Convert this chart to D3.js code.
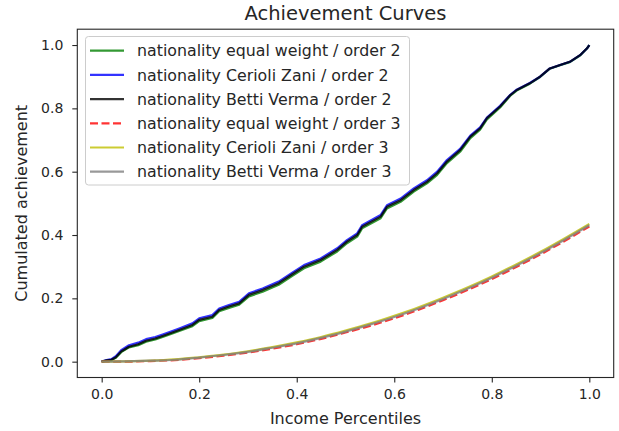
<!DOCTYPE html>
<meta charset="utf-8">
<script src="https://d3js.org/d3.v7.min.js"></script>
<style>
  body { margin: 0; background: #fff; }
  text { font-family: "DejaVu Sans", sans-serif; fill: #262626; }
</style>
<div id="chart"></div>
<script>

// order 2 curves (jagged)
var xOrder2 = [0.000, 0.010, 0.020, 0.029, 0.040, 0.056, 0.075, 0.091, 0.110, 0.125,
               0.145, 0.159, 0.186, 0.200, 0.227, 0.241, 0.261, 0.282, 0.302, 0.330,
               0.363, 0.391, 0.415, 0.449, 0.483, 0.503, 0.524, 0.534, 0.572, 0.585,
               0.613, 0.640, 0.667, 0.688, 0.708, 0.735, 0.756, 0.776, 0.790, 0.817,
               0.838, 0.851, 0.878, 0.899, 0.919, 0.940, 0.960, 0.981, 0.995, 1.000]
var bettiVerma2 = [0.000, 0.004, 0.006, 0.014, 0.032, 0.047, 0.055, 0.066, 0.073, 0.081,
                   0.092, 0.100, 0.116, 0.132, 0.142, 0.163, 0.174, 0.184, 0.211, 0.226,
                   0.248, 0.276, 0.300, 0.321, 0.353, 0.379, 0.400, 0.426, 0.458, 0.489,
                   0.510, 0.542, 0.568, 0.595, 0.632, 0.668, 0.711, 0.737, 0.769, 0.806,
                   0.842, 0.858, 0.879, 0.900, 0.926, 0.937, 0.947, 0.968, 0.989, 1.000]
var cerioliZani2 = [0.000, 0.005, 0.008, 0.017, 0.036, 0.052, 0.060, 0.071, 0.078, 0.086,
                    0.097, 0.105, 0.121, 0.137, 0.147, 0.168, 0.179, 0.189, 0.216, 0.231,
                    0.253, 0.281, 0.305, 0.326, 0.358, 0.384, 0.405, 0.431, 0.463, 0.494,
                    0.515, 0.547, 0.573, 0.600, 0.637, 0.672, 0.714, 0.740, 0.771, 0.808,
                    0.843, 0.859, 0.880, 0.900, 0.926, 0.937, 0.947, 0.968, 0.989, 1.000]
var equalWeight2 = [0.000, 0.003, 0.005, 0.012, 0.030, 0.045, 0.052, 0.063, 0.070, 0.078,
                    0.089, 0.097, 0.112, 0.128, 0.138, 0.159, 0.170, 0.180, 0.206, 0.221,
                    0.243, 0.271, 0.295, 0.316, 0.348, 0.374, 0.395, 0.421, 0.453, 0.484,
                    0.505, 0.537, 0.563, 0.590, 0.627, 0.663, 0.706, 0.733, 0.765, 0.803,
                    0.840, 0.856, 0.878, 0.899, 0.925, 0.936, 0.946, 0.967, 0.989, 1.000]

// order 3 curves (smooth)
var xOrder3 = [0.00, 0.05, 0.10, 0.15, 0.20, 0.25, 0.30, 0.35, 0.40, 0.45, 0.50,
               0.55, 0.60, 0.65, 0.70, 0.75, 0.80, 0.85, 0.90, 0.95, 1.00]
var cerioliZani3 = [0.000, 0.001, 0.003, 0.007, 0.014, 0.022, 0.033, 0.046, 0.061, 0.078, 0.098,
                    0.120, 0.145, 0.172, 0.202, 0.234, 0.269, 0.307, 0.347, 0.390, 0.435]
var bettiVerma3 = [0.000, 0.001, 0.003, 0.006, 0.013, 0.021, 0.031, 0.044, 0.058, 0.075, 0.095,
                   0.117, 0.141, 0.168, 0.198, 0.230, 0.265, 0.303, 0.343, 0.386, 0.431]
var equalWeight3 = [0.000, 0.000, 0.002, 0.005, 0.011, 0.019, 0.029, 0.041, 0.055, 0.072, 0.092,
                    0.113, 0.137, 0.164, 0.194, 0.226, 0.261, 0.299, 0.339, 0.382, 0.427]

var xTicks = [0.0, 0.2, 0.4, 0.6, 0.8, 1.0]
var yTicks = [0.0, 0.2, 0.4, 0.6, 0.8, 1.0]

var series = [
  { name: "nationality equal weight / order 2", xs: xOrder2, ys: equalWeight2, color: "#008000", dash: null },
  { name: "nationality Cerioli Zani / order 2", xs: xOrder2, ys: cerioliZani2, color: "#0000ff", dash: null },
  { name: "nationality Betti Verma / order 2", xs: xOrder2, ys: bettiVerma2, color: "#000000", dash: null },
  { name: "nationality equal weight / order 3", xs: xOrder3, ys: equalWeight3, color: "#ff0000", dash: "8,3.5" },
  { name: "nationality Cerioli Zani / order 3", xs: xOrder3, ys: cerioliZani3, color: "#bfbf00", dash: null },
  { name: "nationality Betti Verma / order 3", xs: xOrder3, ys: bettiVerma3, color: "#808080", dash: null }
]

var width = 619, height = 431
var plotLeft = 77.3, plotRight = 613.7, plotTop = 29.2, plotBottom = 377.5

var svg = d3.select("#chart")
  .append("svg")
    .attr("width", width)
    .attr("height", height)

var x = d3.scaleLinear().domain([-0.05, 1.05]).range([plotLeft, plotRight])
var y = d3.scaleLinear().domain([-0.05, 1.05]).range([plotBottom, plotTop])

// axes
var xAxis = svg.append("g")
  .attr("transform", "translate(0," + plotBottom + ")")
  .call(d3.axisBottom(x).tickValues(xTicks).tickFormat(d3.format(".1f")).tickSize(5).tickPadding(7))
var yAxis = svg.append("g")
  .attr("transform", "translate(" + plotLeft + ",0)")
  .call(d3.axisLeft(y).tickValues(yTicks).tickFormat(d3.format(".1f")).tickSize(5).tickPadding(9))

;[xAxis, yAxis].forEach(function(a) {
  a.select(".domain").remove()
  a.selectAll(".tick line").attr("stroke", "#262626").attr("stroke-width", 1.1)
  a.selectAll(".tick text").style("font-size", "14px").style("fill", "#262626")
})

// lines
var line = d3.line()
  .x(function(d) { return x(d[0]) })
  .y(function(d) { return y(d[1]) })

var plot = svg.append("g")
series.forEach(function(s) {
  var pts = s.xs.map(function(v, i) { return [v, s.ys[i]] })
  plot.append("path")
    .datum(pts)
    .attr("d", line.curve(s.xs === xOrder3 ? d3.curveMonotoneX : d3.curveLinear))
    .attr("fill", "none")
    .attr("stroke", s.color)
    .attr("stroke-opacity", 0.8)
    .attr("stroke-width", 2.2)
    .attr("stroke-linejoin", "round")
    .attr("stroke-dasharray", s.dash)
})

// frame
svg.append("rect")
  .attr("x", plotLeft).attr("y", plotTop)
  .attr("width", plotRight - plotLeft).attr("height", plotBottom - plotTop)
  .attr("fill", "none")
  .attr("stroke", "#262626")
  .attr("stroke-width", 1.1)

// legend
var legend = svg.append("g")
legend.append("rect")
  .attr("x", 85.5).attr("y", 36.5)
  .attr("width", 324).attr("height", 148.5)
  .attr("rx", 3)
  .attr("fill", "#fff").attr("fill-opacity", 0.8)
  .attr("stroke", "#cccccc")
  .attr("stroke-width", 1)

series.forEach(function(s, i) {
  var ly = 50.7 + i * 24.2
  legend.append("line")
    .attr("x1", 90).attr("x2", 124)
    .attr("y1", ly).attr("y2", ly)
    .attr("stroke", s.color)
    .attr("stroke-opacity", 0.8)
    .attr("stroke-width", 2.2)
    .attr("stroke-dasharray", s.dash)
  legend.append("text")
    .attr("x", 137).attr("y", ly + 5.6)
    .style("font-size", "15.8px")
    .text(s.name)
})

// title and labels
svg.append("text")
  .attr("x", (plotLeft + plotRight) / 2).attr("y", 20)
  .attr("text-anchor", "middle")
  .style("font-size", "19.5px")
  .text("Achievement Curves")

svg.append("text")
  .attr("x", (plotLeft + plotRight) / 2).attr("y", 424)
  .attr("text-anchor", "middle")
  .style("font-size", "16px")
  .text("Income Percentiles")

svg.append("text")
  .attr("transform", "translate(27," + (plotTop + plotBottom) / 2 + ") rotate(-90)")
  .attr("text-anchor", "middle")
  .style("font-size", "16px")
  .text("Cumulated achievement")

</script>
